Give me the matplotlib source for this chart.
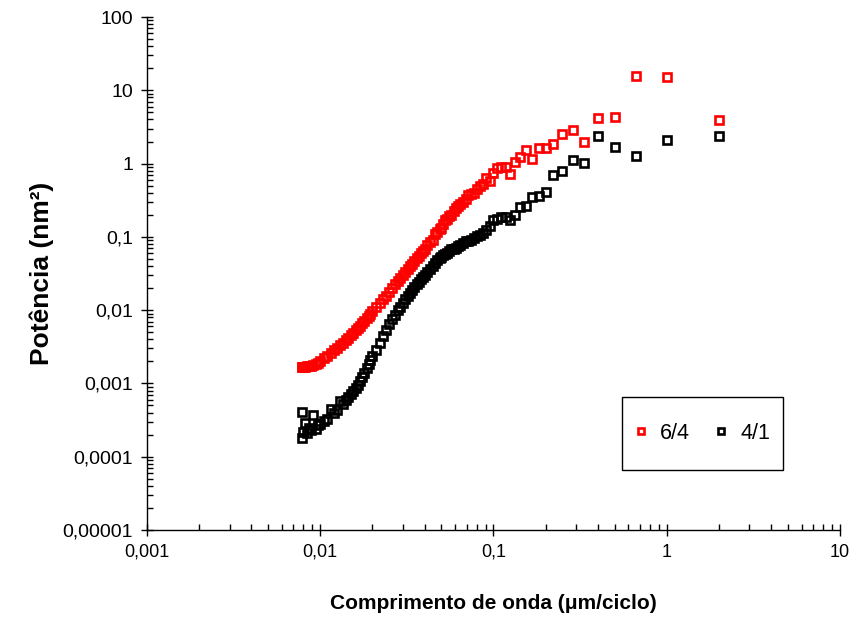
import matplotlib
matplotlib.use('Agg')
import matplotlib.pyplot as plt
from matplotlib.patches import Rectangle
from matplotlib.ticker import FixedLocator, FixedFormatter, LogLocator, NullFormatter

# comprimento de onda (um/ciclo)
wavelength = [
    0.0078, 0.0079, 0.0080, 0.0082, 0.0084, 0.0086, 0.0088, 0.0091, 0.0094, 0.0097,
    0.0100, 0.0105, 0.0110, 0.0115, 0.0120, 0.0125, 0.0130, 0.0135, 0.0140, 0.0145,
    0.0150, 0.0155, 0.0160, 0.0165, 0.0170, 0.0175, 0.0180, 0.0185, 0.0190, 0.0195, 0.0200,
    0.021, 0.022, 0.023, 0.024, 0.025, 0.026, 0.027, 0.028, 0.029, 0.030,
    0.031, 0.032, 0.033, 0.034, 0.035, 0.036, 0.037, 0.038, 0.039, 0.040,
    0.0415, 0.0430, 0.0445, 0.0460, 0.0475, 0.0488, 0.0500, 0.0513, 0.0526, 0.0541,
    0.0556, 0.0571, 0.0588, 0.0606, 0.0625, 0.0645, 0.0667, 0.0690, 0.0714, 0.0741,
    0.0769, 0.0800, 0.0833, 0.0870, 0.0909, 0.0952,
    0.100, 0.105, 0.111, 0.118, 0.125, 0.133, 0.143, 0.154, 0.167, 0.182,
    0.200, 0.222, 0.250, 0.286, 0.333, 0.400, 0.500, 0.667, 1.000, 2.000,
]

# potencia (nm2), amostra 6/4
power_64 = [
    0.00166, 0.00165, 0.00168, 0.00169, 0.00171, 0.00172, 0.00174, 0.00177, 0.00182, 0.00191,
    0.00200, 0.00219, 0.00238, 0.00259, 0.00282, 0.00307, 0.00333, 0.00360, 0.00389, 0.00417,
    0.00451, 0.00489, 0.00528, 0.00569, 0.00611, 0.00664, 0.00716, 0.00776, 0.00832, 0.00891, 0.00959,
    0.0110, 0.0125, 0.0141, 0.0158, 0.0179, 0.0200, 0.0224, 0.0249, 0.0275, 0.0303,
    0.0331, 0.0363, 0.0398, 0.0431, 0.0468, 0.0513, 0.0550, 0.0598, 0.0646, 0.0692,
    0.0776, 0.0859, 0.0910, 0.108, 0.117, 0.127, 0.133, 0.149, 0.168, 0.176,
    0.192, 0.199, 0.222, 0.250, 0.261, 0.282, 0.296, 0.327, 0.368, 0.384,
    0.402, 0.452, 0.49, 0.52, 0.64, 0.57,
    0.75, 0.87, 0.89, 0.90, 0.71, 1.04, 1.22, 1.52, 1.16, 1.62,
    1.65, 1.87, 2.51, 2.85, 1.95, 4.2, 4.3, 15.9, 15.2, 3.9,
]

# potencia (nm2), amostra 4/1
power_41 = [
    0.00018, 0.00041, 0.00022, 0.00029, 0.00021, 0.00025, 0.00023, 0.00037, 0.00024, 0.00027,
    0.00028, 0.00031, 0.00033, 0.00045, 0.00040, 0.00044, 0.00058, 0.00053, 0.00059, 0.00065,
    0.00071, 0.00079, 0.00087, 0.00096, 0.00107, 0.00123, 0.00141, 0.00162, 0.00186, 0.00209, 0.00234,
    0.00288, 0.00351, 0.00437, 0.00537, 0.00646, 0.0075, 0.0086, 0.0099, 0.0112, 0.0126,
    0.0140, 0.0155, 0.0170, 0.0186, 0.0204, 0.0224, 0.0240, 0.0263, 0.0282, 0.0302,
    0.0331, 0.0363, 0.0398, 0.0437, 0.0479, 0.0507, 0.0537, 0.0562, 0.0589, 0.0598,
    0.0638, 0.0690, 0.0692, 0.0705, 0.0750, 0.0785, 0.0813, 0.0880, 0.0891, 0.0905,
    0.0977, 0.102, 0.107, 0.113, 0.123, 0.140,
    0.169, 0.178, 0.187, 0.187, 0.169, 0.197, 0.259, 0.267, 0.347, 0.366,
    0.415, 0.69, 0.79, 1.11, 1.02, 2.41, 1.71, 1.26, 2.1, 2.39,
]

x_ticks = [0.001, 0.01, 0.1, 1, 10]
x_labels = ['0,001', '0,01', '0,1', '1', '10']
y_ticks = [0.00001, 0.0001, 0.001, 0.01, 0.1, 1, 10, 100]
y_labels = ['0,00001', '0,0001', '0,001', '0,01', '0,1', '1', '10', '100']

plt.rcParams['font.family'] = ['Liberation Sans', 'DejaVu Sans']

fig = plt.figure(figsize=(8.54, 6.44), dpi=100)
ax = fig.add_axes([0.1721, 0.177, 0.8115, 0.7966])
ax.set_xscale('log')
ax.set_yscale('log')

ax.plot(wavelength, power_64, ls='none', marker='s', ms=5.6, mfc='none',
        mec='#ff0000', mew=1.9, label='6/4')
ax.plot(wavelength, power_41, ls='none', marker='s', ms=5.6, mfc='none',
        mec='#000000', mew=1.9, label='4/1')

ax.set_xlim(0.001, 10)
ax.set_ylim(0.00001, 100)

for side in ['top', 'right']:
    ax.spines[side].set_visible(False)
for side in ['left', 'bottom']:
    ax.spines[side].set_linewidth(1.0)

ax.xaxis.set_major_locator(FixedLocator(x_ticks))
ax.xaxis.set_major_formatter(FixedFormatter(x_labels))
ax.yaxis.set_major_locator(FixedLocator(y_ticks))
ax.yaxis.set_major_formatter(FixedFormatter(y_labels))
for axis in [ax.xaxis, ax.yaxis]:
    axis.set_minor_locator(LogLocator(base=10, subs=range(2, 10), numticks=20))
    axis.set_minor_formatter(NullFormatter())

ax.tick_params(which='major', direction='inout', length=8, width=1, pad=6)
ax.tick_params(axis='x', which='major', labelsize=13)
ax.tick_params(axis='y', which='major', labelsize=14)
ax.tick_params(which='minor', direction='in', length=4, width=1)

ax.set_xlabel('Comprimento de onda (\u03bcm/ciclo)', fontsize=15,
              fontweight='bold', labelpad=24)
ax.set_ylabel('Pot\u00eancia (nm\u00b2)', fontsize=19, fontweight='bold',
              labelpad=6)

# caixa da legenda
ax.add_patch(Rectangle((0.685, 0.117), 0.233, 0.143, transform=ax.transAxes,
                       facecolor='white', edgecolor='black', lw=1.0, zorder=5))
leg = ax.legend(loc='center', bbox_to_anchor=(0.8015, 0.1885), ncol=2,
                frameon=False, fontsize=15.5, handlelength=0.55,
                handletextpad=0.6, columnspacing=1.2, markerscale=0.7)
leg.set_zorder(6)

fig.savefig('out.png', dpi=100)
